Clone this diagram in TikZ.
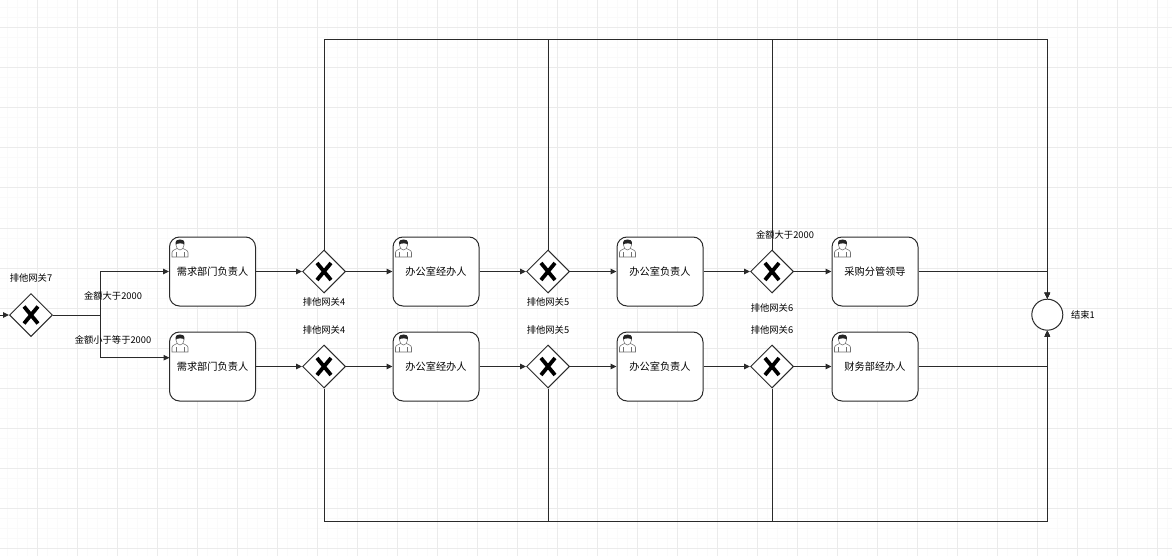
\documentclass[tikz,border=0pt]{standalone}
\usepackage{fontspec}
\setmainfont{Noto Sans CJK SC}
\usetikzlibrary{arrows.meta,shapes.geometric}
\definecolor{gridmajor}{HTML}{EBEBEB}
\definecolor{gridminor}{HTML}{FAFAFA}
\definecolor{iconline}{HTML}{707070}
\definecolor{flowline}{HTML}{2A2A2A}
\tikzset{
  usericon/.pic={
    \draw [iconline,fill=white,line width=0.6pt] (3,20.5) -- (3,16) .. controls (3,13.5) and (7,13) .. (8,12) -- (14,12) .. controls (15,13) and (19,13.5) .. (19,16) -- (19,20.5) -- cycle;
    \draw [iconline,line width=0.6pt] (7,15.5) -- (7,20.5) (15,15.5) -- (15,20.5);
    \draw [iconline,fill=white,line width=0.6pt] (11,8.5) ellipse (4 and 5);
    \fill [black!85] (6.6,8) .. controls (6.2,3.5) and (8.5,3) .. (11,3) .. controls (13.5,3) and (15.8,3.5) .. (15.4,8) .. controls (14,6.6) and (9,6.4) .. (6.6,8) -- cycle;
  }
}
\begin{document}
\begin{tikzpicture}[x=1pt,y=-1pt,line width=1pt,
    task/.style={draw=flowline,fill=white,rounded corners=10pt,minimum width=86pt,minimum height=69pt,font=\fontsize{10.2}{12}\selectfont},
    gateway/.style={draw=flowline,fill=white,diamond,minimum width=43pt,minimum height=43pt,
      path picture={\draw [line width=3.8pt,black] ([shift={(-7,-8.5)}]path picture bounding box.center) -- ([shift={(7,8.5)}]path picture bounding box.center)
        ([shift={(-7,8.5)}]path picture bounding box.center) -- ([shift={(7,-8.5)}]path picture bounding box.center);}},
    endevent/.style={draw=flowline,fill=white,circle,minimum size=31pt},
    tag/.style={font=\fontsize{9.3}{11}\selectfont},
    flow/.style={flowline,-{Triangle[length=6pt,width=5.5pt]}},
    plainflow/.style={flowline}]
    \tikzstyle{every node}+=[inner sep=0pt]
    \useasboundingbox (0,0) rectangle (1172,556);
    \foreach \gx in {7.5,17.5,...,1170} \draw [gridminor] (\gx,0) -- (\gx,556);
    \foreach \gy in {8,18,...,556} \draw [gridminor] (0,\gy) -- (1172,\gy);
    \foreach \gx in {37.5,77.5,...,1170} \draw [gridmajor] (\gx,0) -- (\gx,556);
    \foreach \gy in {28,68,...,556} \draw [gridmajor] (0,\gy) -- (1172,\gy);
    \node [gateway] (gwStart) at (31,315) {};
    \node [task] (taskA1) at (212.5,271.5) {需求部门负责人};
    \node [gateway] (gwA2) at (324,271.5) {};
    \node [task] (taskA3) at (436,271.5) {办公室经办人};
    \node [gateway] (gwA4) at (548,271.5) {};
    \node [task] (taskA5) at (660,271.5) {办公室负责人};
    \node [gateway] (gwA6) at (772,271.5) {};
    \node [task] (taskA7) at (875,271.5) {采购分管领导};
    \node [task] (taskB1) at (212.5,366.5) {需求部门负责人};
    \node [gateway] (gwB2) at (324,366.5) {};
    \node [task] (taskB3) at (436,366.5) {办公室经办人};
    \node [gateway] (gwB4) at (548,366.5) {};
    \node [task] (taskB5) at (660,366.5) {办公室负责人};
    \node [gateway] (gwB6) at (772,366.5) {};
    \node [task] (taskB7) at (875,366.5) {财务部经办人};
    \node [endevent] (endEv) at (1047.3,314.7) {};
    \coordinate (inStart) at (0,315);
    \coordinate (split) at (100.5,315);
    \coordinate (entryA) at (taskA1.west);
    \coordinate (entryB) at (169.5,357.7);
    \coordinate (topEnd) at (1047.3,40);
    \coordinate (botEnd) at (1047.3,521);
    \draw [flow] (inStart) -- (gwStart.west);
    \draw [plainflow] (gwStart.east) -- (split);
    \draw [flow] (split) |- (entryA);
    \draw [flow] (split) |- (entryB);
    \draw [flow] (taskA1) -- (gwA2);
    \draw [flow] (gwA2) -- (taskA3);
    \draw [flow] (taskA3) -- (gwA4);
    \draw [flow] (gwA4) -- (taskA5);
    \draw [flow] (taskA5) -- (gwA6);
    \draw [flow] (gwA6) -- (taskA7);
    \draw [flow] (taskB1) -- (gwB2);
    \draw [flow] (gwB2) -- (taskB3);
    \draw [flow] (taskB3) -- (gwB4);
    \draw [flow] (gwB4) -- (taskB5);
    \draw [flow] (taskB5) -- (gwB6);
    \draw [flow] (gwB6) -- (taskB7);
    \draw [flow] (taskA7.east) -| (endEv.north);
    \draw [flow] (taskB7.east) -| (endEv.south);
    \draw [flow] (gwA2.north) |- (topEnd) -- (endEv.north);
    \draw [flow] (gwA4.north) |- (topEnd) -- (endEv.north);
    \draw [flow] (gwA6.north) |- (topEnd) -- (endEv.north);
    \draw [flow] (gwB2.south) |- (botEnd) -- (endEv.south);
    \draw [flow] (gwB4.south) |- (botEnd) -- (endEv.south);
    \draw [flow] (gwB6.south) |- (botEnd) -- (endEv.south);
    \pic at (taskA1.north west) {usericon};
    \pic at (taskA3.north west) {usericon};
    \pic at (taskA5.north west) {usericon};
    \pic at (taskA7.north west) {usericon};
    \pic at (taskB1.north west) {usericon};
    \pic at (taskB3.north west) {usericon};
    \pic at (taskB5.north west) {usericon};
    \pic at (taskB7.north west) {usericon};
    \node [tag] (tagStart) at (31,277.5) {排他网关7};
    \node [tag] (tagHigh) at (113,296) {金额大于2000};
    \node [tag] (tagLow) at (113,340) {金额小于等于2000};
    \node [tag] (tagA2) at (324,301.5) {排他网关4};
    \node [tag] (tagA4) at (548,301.5) {排他网关5};
    \node [tag] (tagA6) at (772,307.5) {排他网关6};
    \node [tag] (tagHighB) at (785,235) {金额大于2000};
    \node [tag] (tagB2) at (324,330) {排他网关4};
    \node [tag] (tagB4) at (548,330) {排他网关5};
    \node [tag] (tagB6) at (772,330) {排他网关6};
    \node [tag] (tagEnd) at (1083,315) {结束1};
\end{tikzpicture}
\end{document}
